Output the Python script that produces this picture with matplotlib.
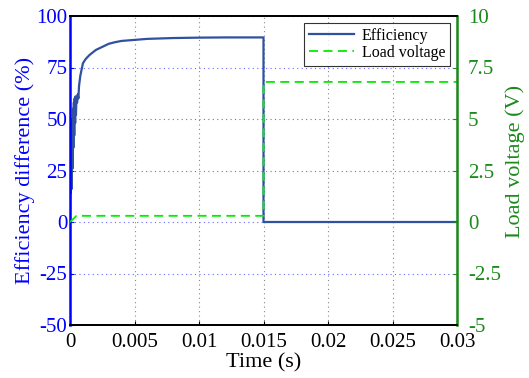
import matplotlib
matplotlib.use("Agg")
import matplotlib.pyplot as plt

# Data
t_eff = [0, 0.00003, 0.00006, 0.0001, 0.00013, 0.00016, 0.0002, 0.00023, 0.00026, 0.0003,
         0.00033, 0.00036, 0.0004, 0.00043, 0.00046, 0.0005, 0.00055, 0.0006, 0.00065, 0.0007,
         0.0008, 0.0009, 0.001, 0.0012, 0.0015, 0.002, 0.0025, 0.003, 0.0035, 0.004, 0.005,
         0.006, 0.008, 0.01, 0.012, 0.015, 0.015, 0.03]
eff = [0, 35, 14, 42, 16, 50, 26, 55, 36, 58, 42, 60, 48, 61, 52, 60, 58, 62, 60, 66,
       71, 74, 77, 79, 81, 83.5, 85, 86.5, 87.3, 87.9, 88.4, 88.9, 89.3, 89.5, 89.6, 89.6, 0, 0]
t_volt = [0, 0.0005, 0.015, 0.015, 0.03]
volt = [0, 0.3, 0.3, 6.8, 6.8]

x_ticks = [0, 0.005, 0.01, 0.015, 0.02, 0.025, 0.03]
x_labels = ["0", "0.005", "0.01", "0.015", "0.02", "0.025", "0.03"]
yl_ticks = [-50, -25, 0, 25, 50, 75, 100]
yl_labels = ["-50", "-25", "0", "25", "50", "75", "100"]
yr_ticks = [-5, -2.5, 0, 2.5, 5, 7.5, 10]
yr_labels = ["-5", "-2.5", "0", "2.5", "5", "7.5", "10"]

plt.rcParams['font.family'] = ['Liberation Serif', 'DejaVu Serif']

fig = plt.figure(figsize=(5.29, 3.78), dpi=100)
ax = fig.add_axes([70/529, 53/378, 387/529, 309/378])
ax2 = ax.twinx()

blue_axis = '#0000ff'
green_axis = '#1a8a1a'

l1, = ax.plot(t_eff, eff, color='#3050a0', lw=1.6, label='Efficiency')
l2, = ax2.plot(t_volt, volt, color='#00ee00', lw=1.3, ls=(0, (5, 3)), label='Load voltage')

ax.set_xlim(0, 0.03)
ax.set_ylim(-50, 100)
ax2.set_ylim(-5, 10)
ax.set_xticks(x_ticks)
ax.set_xticklabels(x_labels)
ax.set_yticks(yl_ticks)
ax.set_yticklabels(yl_labels)
ax2.set_yticks(yr_ticks)
ax2.set_yticklabels(yr_labels)

ax.xaxis.grid(True, color='#888888', ls=(0, (1, 3)), lw=0.8)
ax.yaxis.grid(True, color='#6666ff', ls=(0, (1, 3)), lw=0.8)
ax.set_axisbelow(True)

fs = 15
ax.tick_params(axis='x', labelsize=fs, direction='in', length=3, colors='black', pad=6)
ax.tick_params(axis='y', labelsize=fs, direction='in', length=3, colors=blue_axis, pad=2)
ax2.tick_params(axis='y', labelsize=fs, direction='in', length=3, colors=green_axis, pad=8)

ax.spines['left'].set_color(blue_axis)
ax.spines['left'].set_linewidth(1.8)
ax2.spines['left'].set_visible(False)
ax2.spines['right'].set_color(green_axis)
ax2.spines['right'].set_linewidth(1.8)
for s in ['top', 'bottom']:
    ax.spines[s].set_linewidth(1.3)
    ax2.spines[s].set_linewidth(1.3)

ax.set_xlabel('Time (s)', fontsize=16, labelpad=1)
ax.set_ylabel('Efficiency difference (%)', fontsize=16, color=blue_axis, labelpad=1)
ax2.set_ylabel('Load voltage (V)', fontsize=16, color=green_axis)
ax2.yaxis.set_label_coords(1.125, 0.53)

leg = ax2.legend(handles=[l1, l2], loc='upper right', fontsize=11.5, frameon=True,
                 fancybox=False, edgecolor='black', borderpad=0.3, handlelength=2.8,
                 handletextpad=0.5, labelspacing=0.05, borderaxespad=0.45)
leg.get_frame().set_linewidth(0.8)

fig.savefig('out.png', dpi=100)
